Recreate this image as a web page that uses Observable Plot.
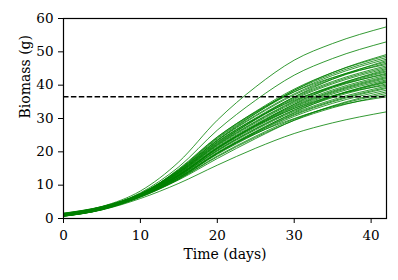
<!DOCTYPE html>
<html>
<head>
<meta charset="utf-8">
<script src="https://cdn.jsdelivr.net/npm/d3@7"></script>
<script src="https://cdn.jsdelivr.net/npm/@observablehq/plot@0.6"></script>
<style>
  html, body { margin: 0; padding: 0; background: white; }
</style>
</head>
<body>
<div id="chart"></div>
<script>
const days = [0, 5, 10, 15, 20, 25, 30, 35, 42];
const biomass = [
  [0.7, 2.59, 6.0, 10.55, 16.0, 21.1, 25.5, 28.7, 32.0],
  [1.3, 3.24, 6.62, 11.9, 19.5, 25.5, 30.0, 33.5, 36.5],
  [0.8, 2.74, 6.40, 11.78, 18.5, 24.39, 29.43, 33.22, 37.0],
  [1.1, 3.04, 6.59, 11.9, 18.75, 24.72, 29.83, 33.67, 37.5],
  [0.65, 2.6, 6.4, 11.6, 18.0, 24.0, 29.5, 33.8, 38.0],
  [1.4, 3.35, 6.81, 12.15, 19.25, 25.38, 30.63, 34.56, 38.5],
  [0.9, 2.85, 6.6, 12.27, 19.5, 25.7, 31.02, 35.01, 39.0],
  [1.2, 3.16, 6.78, 12.35, 19.65, 25.9, 31.26, 35.28, 39.3],
  [0.75, 2.71, 6.58, 12.44, 19.85, 26.17, 31.58, 35.64, 39.7],
  [1.5, 3.46, 6.97, 12.9, 21.2, 27.8, 33.0, 36.8, 40.0],
  [1.0, 2.97, 6.75, 12.62, 20.2, 26.63, 32.14, 36.27, 40.4],
  [0.85, 2.82, 6.71, 12.71, 20.4, 26.89, 32.45, 36.63, 40.8],
  [1.3, 3.27, 6.94, 12.76, 20.5, 27.02, 32.61, 36.81, 41.0],
  [0.7, 2.68, 6.67, 12.2, 19.6, 26.0, 31.8, 36.6, 41.3],
  [1.1, 3.07, 6.88, 12.91, 20.8, 27.42, 33.09, 37.35, 41.6],
  [1.6, 3.59, 7.16, 13.01, 21.0, 27.68, 33.41, 37.7, 42.0],
  [0.9, 2.88, 6.83, 13.08, 21.15, 27.88, 33.65, 37.98, 42.3],
  [1.2, 3.19, 7.0, 13.16, 21.3, 28.08, 33.89, 38.24, 42.6],
  [0.8, 2.79, 6.83, 13.25, 21.5, 28.34, 34.2, 38.6, 43.0],
  [1.4, 3.39, 7.15, 14.0, 23.0, 30.0, 35.5, 39.5, 43.3],
  [1.0, 3.0, 6.97, 13.4, 21.8, 28.74, 34.68, 39.14, 43.6],
  [0.75, 2.75, 6.88, 13.5, 22.0, 29.0, 35.0, 39.5, 44.0],
  [1.25, 3.25, 7.14, 13.57, 22.15, 29.2, 35.24, 39.77, 44.3],
  [0.95, 2.96, 7.03, 13.0, 21.0, 28.0, 34.3, 39.5, 44.7],
  [1.55, 3.56, 7.35, 13.75, 22.5, 29.66, 35.8, 40.4, 45.0],
  [0.8, 2.81, 7.0, 13.84, 22.7, 29.92, 36.11, 40.76, 45.4],
  [1.15, 3.17, 7.2, 13.94, 22.9, 30.19, 36.43, 41.12, 45.8],
  [0.7, 2.72, 7.01, 14.9, 24.5, 32.0, 38.0, 42.3, 46.2],
  [1.35, 3.37, 7.36, 14.14, 23.3, 30.71, 37.07, 41.83, 46.6],
  [1.0, 3.03, 7.22, 14.24, 23.5, 30.98, 37.39, 42.19, 47.0],
  [0.85, 2.88, 7.17, 13.8, 22.3, 29.8, 36.5, 41.8, 47.4],
  [1.45, 3.48, 7.49, 14.43, 23.9, 31.51, 38.02, 42.91, 47.8],
  [0.9, 2.94, 7.25, 14.56, 24.15, 31.83, 38.42, 43.36, 48.3],
  [1.2, 3.24, 7.44, 14.68, 24.4, 32.16, 38.82, 43.81, 48.8],
  [1.05, 3.1, 7.39, 14.4, 23.5, 31.5, 38.5, 43.8, 49.2],
  [0.95, 3.15, 7.7, 15.5, 26.5, 35.5, 43.0, 48.0, 53.0],
  [1.3, 3.6, 8.25, 17.0, 29.5, 39.5, 47.5, 52.5, 57.5]
];
const threshold = [36.5];
const xTicks = [0, 10, 20, 30, 40];
const yTicks = [0, 10, 20, 30, 40, 50, 60];
const xLabel = "Time (days)";
const yLabel = "Biomass (g)";

const table = biomass.flatMap((row, i) => row.map((v, j) => ({run: i, day: days[j], mass: v})));

const chart = Plot.plot({
  width: 398,
  height: 280,
  marginLeft: 63,
  marginRight: 12,
  marginTop: 18,
  marginBottom: 62,
  style: {fontFamily: "DejaVu Serif", fontSize: "13.5px", color: "black", background: "white"},
  x: {domain: [0, 42]},
  y: {domain: [0, 60]},
  marks: [
    Plot.lineY(table, {x: "day", y: "mass", z: "run", stroke: "green", strokeWidth: 0.8, curve: "monotone-x"}),
    Plot.ruleY(threshold, {stroke: "black", strokeWidth: 1.5, strokeDasharray: "5.5,2.4"}),
    Plot.frame({stroke: "black", strokeWidth: 1.2}),
    Plot.axisX({ticks: xTicks, tickSize: 5, tickPadding: 7, label: null, tickFormat: d => String(d)}),
    Plot.axisY({ticks: yTicks, tickSize: 5, tickPadding: 5, label: null, tickFormat: d => String(d)}),
    Plot.text([xLabel], {frameAnchor: "bottom", dy: 40.5, text: d => d, fontSize: 14}),
    Plot.text([yLabel], {frameAnchor: "left", dx: -38, rotate: -90, text: d => d, fontSize: 14})
  ]
});
document.getElementById("chart").appendChild(chart);
</script>
</body>
</html>
